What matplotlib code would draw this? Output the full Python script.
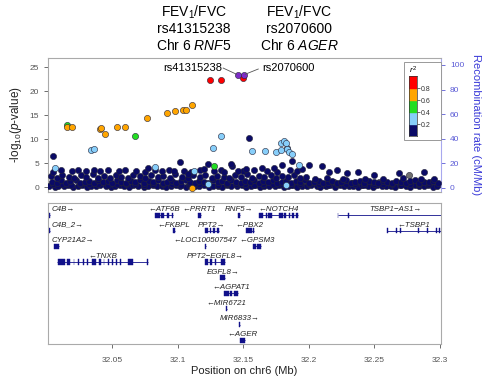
import matplotlib
matplotlib.use("Agg")
import matplotlib.pyplot as plt
from matplotlib.patches import Rectangle

plt.rcParams['font.family'] = ['Liberation Sans', 'DejaVu Sans']
plt.rcParams['mathtext.fontset'] = 'custom'
plt.rcParams['mathtext.rm'] = 'Liberation Sans'
plt.rcParams['mathtext.it'] = 'Liberation Sans:italic'

# ---- association results (position Mb, -log10 p) ----
lead_snps = [(32.1457, 23.3), (32.1508, 23.3)]
red_pts = [(32.1243, 22.35), (32.1327, 22.35), (32.1495, 22.7)]
orange_pts = [(32.0154, 12.43), (32.0192, 12.43), (32.0409, 12.1), (32.0418, 12.4), (32.0447, 11.05),
              (32.0538, 12.5), (32.0597, 12.5), (32.0765, 14.4), (32.0918, 15.4), (32.0981, 15.8),
              (32.1044, 16.1), (32.1065, 16.1), (32.1108, 17.15), (32.1108, -0.1)]
green_pts = [(32.0154, 12.85), (32.0673, 10.56), (32.1279, 4.4)]
lightblue_pts = [(32.0065, 4.0), (32.0337, 7.7), (32.036, 7.85), (32.0828, 4.2), (32.1126, 3.3),
                 (32.1228, 0.7), (32.1269, 8.2), (32.1332, 10.56), (32.1565, 7.6), (32.1663, 7.5),
                 (32.1747, 7.4), (32.1788, 9.25), (32.1808, 9.6), (32.1823, 9.3), (32.179, 7.7),
                 (32.1836, 7.85), (32.1849, 7.4), (32.1869, 7.0), (32.1925, 4.6), (32.1823, 0.4)]
navy_pts = [(32.0047, 6.45), (32.1548, 10.15), (32.1019, 5.3), (32.1235, 4.9), (32.1414, 4.5),
            (32.1874, 5.5), (32.1793, 4.6), (32.2002, 4.6), (32.2103, 4.4), (32.2292, 2.85),
            (32.238, 3.2), (32.2495, 2.6), (32.2686, 2.85), (32.2884, 3.2), (32.1734, 4.0),
            (32.1645, 3.9), (32.1518, 3.7), (32.195, 3.7), (32.2154, 3.2), (32.2218, 3.5),
            (32.077, 3.9), (32.0973, 3.4), (32.1075, 2.7), (32.1202, 3.7), (32.141, 4.8),
            (32.1355, 3.2), (32.1464, 3.4)]
band_low = [(32.002, 0.2), (32.006, 0.1), (32.009, 0.3), (32.013, 0.15), (32.016, 0.4), (32.020, 0.05),
            (32.024, 0.25), (32.027, 0.35), (32.031, 0.1), (32.034, 0.2), (32.038, 0.3), (32.041, 0.45),
            (32.045, 0.15), (32.049, 0.05), (32.052, 0.25), (32.056, 0.4), (32.059, 0.2), (32.063, 0.1),
            (32.066, 0.35), (32.070, 0.3), (32.074, 0.05), (32.077, 0.2), (32.081, 0.4), (32.084, 0.15),
            (32.088, 0.25), (32.091, 0.1), (32.095, 0.3), (32.099, 0.45), (32.102, 0.2), (32.106, 0.05),
            (32.109, 0.35), (32.113, 0.15), (32.116, 0.25), (32.120, 0.4), (32.124, 0.1), (32.127, 0.3),
            (32.131, 0.2), (32.134, 0.05), (32.138, 0.45), (32.141, 0.15), (32.145, 0.25), (32.149, 0.35),
            (32.152, 0.1), (32.156, 0.2), (32.159, 0.4), (32.163, 0.05), (32.166, 0.3), (32.170, 0.15),
            (32.174, 0.25), (32.177, 0.45), (32.181, 0.1), (32.184, 0.2), (32.188, 0.35), (32.191, 0.05),
            (32.195, 0.3), (32.199, 0.15), (32.202, 0.4), (32.206, 0.25), (32.209, 0.1), (32.213, 0.2),
            (32.216, 0.35), (32.220, 0.05), (32.224, 0.45), (32.227, 0.15), (32.231, 0.3), (32.234, 0.2),
            (32.238, 0.1), (32.241, 0.4), (32.245, 0.25), (32.249, 0.05), (32.252, 0.35), (32.256, 0.15),
            (32.259, 0.2), (32.263, 0.3), (32.266, 0.1), (32.270, 0.45), (32.274, 0.25), (32.277, 0.05),
            (32.281, 0.35), (32.284, 0.2), (32.288, 0.15), (32.291, 0.4), (32.295, 0.1), (32.298, 0.3)]
band_fill = [(32.0045, 0.6), (32.0115, 0.7), (32.0185, 0.55), (32.0255, 0.65), (32.0325, 0.6), (32.0395, 0.75),
             (32.0465, 0.55), (32.0535, 0.7), (32.0605, 0.6), (32.0675, 0.65), (32.0745, 0.55), (32.0815, 0.7),
             (32.0885, 0.6), (32.0955, 0.75), (32.1025, 0.55), (32.1095, 0.65), (32.1165, 0.6), (32.1235, 0.7),
             (32.1305, 0.55), (32.1375, 0.65), (32.1445, 0.6), (32.1515, 0.75), (32.1585, 0.55), (32.1655, 0.7),
             (32.1725, 0.6), (32.1795, 0.65), (32.1865, 0.55), (32.1935, 0.7), (32.2005, 0.6), (32.2075, 0.65),
             (32.2145, 0.55), (32.2215, 0.7), (32.2285, 0.6), (32.2355, 0.65), (32.2425, 0.55), (32.2495, 0.7),
             (32.2565, 0.6), (32.2635, 0.65), (32.2705, 0.55), (32.2775, 0.7), (32.2845, 0.6), (32.2915, 0.65)]
band_mid = [(32.004, 1.1), (32.0075, 0.8), (32.011, 1.4), (32.0145, 0.9), (32.018, 1.2), (32.022, 1.5),
            (32.0255, 0.8), (32.029, 1.1), (32.0325, 1.3), (32.036, 0.9), (32.0395, 1.5), (32.043, 1.0),
            (32.0465, 1.2), (32.050, 0.8), (32.0535, 1.4), (32.057, 1.1), (32.0605, 0.9), (32.064, 1.3),
            (32.0675, 1.0), (32.071, 1.5), (32.0745, 0.8), (32.078, 1.2), (32.0815, 1.0), (32.085, 1.4),
            (32.0885, 0.9), (32.092, 1.1), (32.0955, 1.3), (32.099, 0.8), (32.1025, 1.2), (32.106, 1.5),
            (32.1095, 1.0), (32.113, 0.9), (32.1165, 1.3), (32.120, 1.1), (32.1235, 0.8), (32.127, 1.4),
            (32.1305, 1.0), (32.134, 1.2), (32.1375, 0.9), (32.141, 1.5), (32.1445, 1.1), (32.148, 0.8),
            (32.1515, 1.3), (32.155, 1.0), (32.1585, 1.4), (32.162, 0.9), (32.1655, 1.2), (32.169, 1.0),
            (32.1725, 1.5), (32.176, 0.8), (32.1795, 1.1), (32.183, 1.3), (32.1865, 0.9), (32.190, 1.2),
            (32.1935, 1.0), (32.197, 1.4), (32.2005, 0.8), (32.204, 1.1), (32.2075, 1.3), (32.211, 0.9),
            (32.2145, 1.0), (32.218, 1.2), (32.2215, 0.8), (32.225, 1.1), (32.2285, 1.4), (32.232, 0.9),
            (32.2355, 1.0), (32.239, 1.2), (32.2425, 0.8), (32.246, 1.3), (32.2495, 1.0), (32.253, 0.9),
            (32.2565, 1.2), (32.260, 1.1), (32.2635, 0.8), (32.267, 1.3), (32.2705, 1.0), (32.274, 0.9),
            (32.2775, 1.2), (32.281, 1.4), (32.2845, 0.8), (32.288, 1.1), (32.2915, 1.0), (32.295, 1.3),
            (32.2985, 0.9)]
band_upper = [(32.003, 2.3), (32.008, 2.0), (32.012, 2.6), (32.017, 2.2), (32.021, 1.9), (32.026, 2.5),
              (32.030, 2.1), (32.035, 2.7), (32.039, 2.0), (32.044, 2.4), (32.048, 1.9), (32.053, 2.6),
              (32.057, 2.2), (32.062, 2.0), (32.066, 2.5), (32.071, 2.3), (32.075, 1.9), (32.080, 2.6),
              (32.085, 2.1), (32.089, 2.4), (32.094, 2.0), (32.098, 2.7), (32.103, 2.2), (32.108, 1.9),
              (32.112, 2.5), (32.117, 2.1), (32.121, 2.6), (32.126, 2.0), (32.130, 2.4), (32.135, 2.2),
              (32.139, 1.9), (32.144, 2.5), (32.148, 2.1), (32.153, 2.7), (32.157, 2.0), (32.162, 2.4),
              (32.166, 2.2), (32.171, 2.6), (32.175, 1.9), (32.180, 2.3), (32.184, 2.1), (32.189, 2.5),
              (32.193, 2.0), (32.198, 2.2), (32.205, 1.8), (32.214, 1.9), (32.226, 1.7), (32.243, 1.8),
              (32.257, 1.7), (32.272, 1.9), (32.286, 1.8), (32.296, 1.7)]
band_top = [(32.005, 3.2), (32.011, 3.5), (32.019, 3.4), (32.024, 3.6), (32.030, 3.3), (32.036, 3.5),
            (32.041, 3.4), (32.047, 3.6), (32.055, 3.3), (32.060, 3.5), (32.068, 3.4), (32.075, 3.2),
            (32.083, 3.5), (32.088, 3.3), (32.093, 3.6), (32.105, 3.4), (32.110, 3.2), (32.117, 3.5),
            (32.128, 3.3), (32.133, 3.5), (32.150, 3.3), (32.158, 3.6), (32.168, 3.4), (32.176, 3.2),
            (32.186, 3.6), (32.191, 3.3)]
gray_pts = [(32.185, 0.6), (32.192, 1.0), (32.198, 0.5), (32.205, 0.8), (32.212, 0.4), (32.219, 1.1),
            (32.226, 0.6), (32.233, 0.9), (32.240, 0.5), (32.247, 0.7), (32.254, 1.0), (32.261, 0.4),
            (32.268, 0.8), (32.2762, 2.6), (32.282, 0.6), (32.289, 0.9), (32.296, 0.5), (32.1835, 8.2)]

recomb_x = [32.001, 32.02, 32.05, 32.07, 32.09, 32.11, 32.13, 32.15, 32.17, 32.19, 32.21, 32.23, 32.25, 32.27, 32.29, 32.301]
recomb_y = [0.5, 0.8, 1.2, 0.6, 0.3, 0.9, 1.5, 0.7, 0.4, 1.0, 2.1, 0.6, 0.8, 1.3, 0.5, 0.4]

# ---- genes ----
gene_names = ["C4B", "ATF6B", "PRRT1", "RNF5", "NOTCH4", "TSBP1-AS1",
              "C4B_2", "FKBPL", "PPT2", "PBX2", "TSBP1",
              "CYP21A2", "LOC100507547", "GPSM3",
              "TNXB", "PPT2-EGFL8", "EGFL8", "AGPAT1", "MIR6721", "MIR6833", "AGER"]
gene_start = [32.0005, 32.0823, 32.1154, 32.1461, 32.1617, 32.2223,
              32.0005, 32.0963, 32.1205, 32.1523, 32.2601,
              32.0057, 32.1205, 32.1574,
              32.0082, 32.1210, 32.1324, 32.1355, 32.1370, 32.1471, 32.1477]
gene_end = [32.0025, 32.0968, 32.1177, 32.1477, 32.1922, 32.3100,
            32.0025, 32.0981, 32.1312, 32.1579, 32.3009,
            32.0095, 32.1215, 32.1635,
            32.0773, 32.1363, 32.1363, 32.1457, 32.1373, 32.1474, 32.1515]
gene_row = [1, 1, 1, 1, 1, 1, 2, 2, 2, 2, 2, 3, 3, 3, 4, 4, 5, 6, 7, 8, 9]
gene_strand = ["+", "-", "-", "+", "-", "+", "+", "-", "+", "-", "-",
               "+", "-", "-", "-", "+", "+", "-", "-", "+", "-"]
gene_exons = [
    [(32.0005, 32.0025)],
    [(32.0823, 32.0866), (32.0874, 32.0897), (32.0918, 32.0930), (32.0956, 32.0968)],
    [(32.1154, 32.1177)],
    [(32.1461, 32.1477)],
    [(32.1617, 32.1655), (32.1676, 32.1685), (32.1693, 32.1719), (32.1777, 32.1803),
     (32.1813, 32.1828), (32.1846, 32.1859), (32.1872, 32.1889), (32.1902, 32.1922)],
    [(32.2220, 32.2226), (32.2301, 32.2307)],
    [(32.0005, 32.0025)],
    [(32.0963, 32.0981)],
    [(32.1205, 32.1231), (32.1243, 32.1253), (32.1273, 32.1281), (32.1299, 32.1312)],
    [(32.1523, 32.1570), (32.1575, 32.1579)],
    [(32.2598, 32.2606), (32.2669, 32.2677), (32.2694, 32.2702), (32.2834, 32.2842),
     (32.2903, 32.2911), (32.2969, 32.2977), (32.2995, 32.3005)],
    [(32.0057, 32.0095)],
    [(32.1205, 32.1215)],
    [(32.1574, 32.1600), (32.1606, 32.1635)],
    [(32.0090, 32.0141), (32.0154, 32.0179), (32.0205, 32.0212), (32.0238, 32.0246),
     (32.0276, 32.0284), (32.0307, 32.0315), (32.0345, 32.0378), (32.0403, 32.0411),
     (32.0434, 32.0441), (32.0467, 32.0475), (32.0498, 32.0505), (32.0531, 32.0538),
     (32.0561, 32.0569), (32.0624, 32.0658), (32.0765, 32.0773)],
    [(32.1210, 32.1235), (32.1248, 32.1261), (32.1281, 32.1292), (32.1332, 32.1363)],
    [(32.1324, 32.1363)],
    [(32.1355, 32.1390), (32.1400, 32.1412), (32.1430, 32.1457)],
    [(32.1370, 32.1373)],
    [(32.1471, 32.1474)],
    [(32.1477, 32.1515)],
]

r2_bins = [0.0, 0.2, 0.4, 0.6, 0.8, 1.0]
r2_colors = ["#0A0A66", "#87CEFA", "#22DD22", "#FFA500", "#FF0000"]
lead_color = "#7D2BC8"
gray_color = "#707070"

xlim = (32.001, 32.301)
label_col = "#3A3AD8"

fig = plt.figure(figsize=(5, 3.88), dpi=100)
ax = fig.add_axes([0.096, 0.5052, 0.786, 0.3454])
axr = ax.twinx()
ax.set_zorder(axr.get_zorder() + 1)
ax.patch.set_visible(False)

axr.plot(recomb_x, recomb_y, color="#3030FF", lw=0.8, alpha=0.8)
axr.set_ylim(-3.3, 105.7)
axr.set_yticks([0, 20, 40, 60, 80, 100])
axr.tick_params(axis='y', colors="#5B5BD6", labelsize=6, length=3, width=0.6)
axr.set_ylabel("Recombination rate (cM/Mb)", color=label_col, fontsize=8, rotation=270, labelpad=12)
for s in axr.spines.values():
    s.set_visible(False)


def draw(points, color, z):
    xs = [p[0] for p in points]
    ys = [p[1] for p in points]
    ax.scatter(xs, ys, s=20, c=color, edgecolors="#25253A", linewidths=0.4, zorder=z)


draw(gray_pts, gray_color, 2)
draw(band_low + band_fill + band_mid + band_upper + band_top + navy_pts, r2_colors[0], 3)
draw(lightblue_pts, r2_colors[1], 4)
draw(green_pts, r2_colors[2], 5)
draw(orange_pts, r2_colors[3], 6)
draw(red_pts, r2_colors[4], 7)
draw(lead_snps, lead_color, 8)

ax.set_xlim(*xlim)
ax.set_ylim(-1.0, 26.9)
ax.set_yticks([0, 5, 10, 15, 20, 25])
ax.set_xticks([])
ax.tick_params(axis='y', colors="#555555", labelsize=6, length=3, width=0.6)
ax.set_ylabel("-log$_{10}$($p$-value)", fontsize=8.5, color="#222222", labelpad=4)
for name, s in ax.spines.items():
    s.set_color("#AAAAAA")
    s.set_linewidth(0.8)
ax.spines['right'].set_color("#A8A8EE")

# lead SNP labels
ax.plot([32.1347, 32.1450], [24.8, 23.5], color="#555555", lw=0.6, zorder=9)
ax.text(32.1340, 24.8, "rs41315238", ha="right", va="center", fontsize=8, zorder=9)
ax.plot([32.1515, 32.1615], [23.5, 24.6], color="#555555", lw=0.6, zorder=9)
ax.text(32.1645, 24.8, "rs2070600", ha="left", va="center", fontsize=8, zorder=9)

# r2 legend
fig.patches.append(Rectangle((404 / 500, 1 - 139.7 / 388), 36.7 / 500, 77.7 / 388,
                             transform=fig.transFigure, facecolor="white",
                             edgecolor="#999999", lw=0.7, zorder=10))
axl = fig.add_axes([409 / 500, 1 - 136.3 / 388, 7.7 / 500, 60 / 388])
axl.set_zorder(11)
for i, col in enumerate(r2_colors):
    axl.axhspan(r2_bins[i], r2_bins[i + 1], color=col)
axl.set_ylim(0, 1)
axl.set_xlim(0, 1)
axl.set_xticks([])
axl.yaxis.tick_right()
axl.set_yticks([0.2, 0.4, 0.6, 0.8])
axl.set_yticklabels(["0.2", "0.4", "0.6", "0.8"])
axl.tick_params(axis='y', labelsize=5, length=2, width=0.5, pad=1, colors="#333333")
for s in axl.spines.values():
    s.set_linewidth(0.5)
    s.set_color("#333333")
axl.set_title("$r^2$", fontsize=6, pad=1.5)

# ---- gene panel ----
ax2 = fig.add_axes([0.096, 0.1134, 0.786, 0.3634])
gene_col = "#10108A"
labels = []
for name, g0, g1, row, strand, exons in zip(gene_names, gene_start, gene_end, gene_row, gene_strand, gene_exons):
    y = -row
    ax2.plot([g0, g1], [y, y], color=gene_col, lw=0.6, solid_capstyle="butt")
    for e0, e1 in exons:
        ax2.add_patch(Rectangle((e0, y - 0.16), e1 - e0, 0.32, facecolor=gene_col, edgecolor=gene_col, lw=0.3))
    shown = name.replace("-", "\u2212")
    txt = "\u2190" + shown if strand == "-" else shown + "\u2192"
    t = ax2.text((g0 + g1) / 2, y + 0.36, txt, ha="center", va="center", fontsize=5.7,
                 style="italic", color="#222222")
    labels.append(t)

ax2.set_xlim(*xlim)
ax2.set_ylim(-9.24, -0.23)
ax2.set_yticks([])
ax2.set_xticks([32.05, 32.1, 32.15, 32.2, 32.25, 32.3])
ax2.set_xticklabels(["32.05", "32.1", "32.15", "32.2", "32.25", "32.3"])
ax2.tick_params(axis='x', colors="#555555", labelsize=6, length=3, width=0.6, pad=6)
ax2.set_xlabel("Position on chr6 (Mb)", fontsize=8, color="#222222", labelpad=2)
for s in ax2.spines.values():
    s.set_color("#AAAAAA")
    s.set_linewidth(0.8)

# keep gene labels inside the panel
fig.canvas.draw()
renderer = fig.canvas.get_renderer()
box = ax2.get_window_extent(renderer)
for t in labels:
    bb = t.get_window_extent(renderer)
    if bb.x0 < box.x0:
        t.set_ha("left")
        t.set_x(xlim[0] + 0.0026)
    elif bb.x1 > box.x1:
        t.set_ha("right")
        t.set_x(xlim[1] - 0.0013)

# ---- titles ----
fig.text(0.388, 1 - 12 / 388, "FEV$_1$/FVC", ha="center", va="center", fontsize=10)
fig.text(0.388, 1 - 29 / 388, "rs41315238", ha="center", va="center", fontsize=10)
fig.text(0.388, 1 - 46 / 388, "Chr 6 $\\mathit{RNF5}$", ha="center", va="center", fontsize=10)
fig.text(0.598, 1 - 12 / 388, "FEV$_1$/FVC", ha="center", va="center", fontsize=10)
fig.text(0.598, 1 - 29 / 388, "rs2070600", ha="center", va="center", fontsize=10)
fig.text(0.598, 1 - 46 / 388, "Chr 6 $\\mathit{AGER}$", ha="center", va="center", fontsize=10)

fig.savefig("out.png", dpi=100)
